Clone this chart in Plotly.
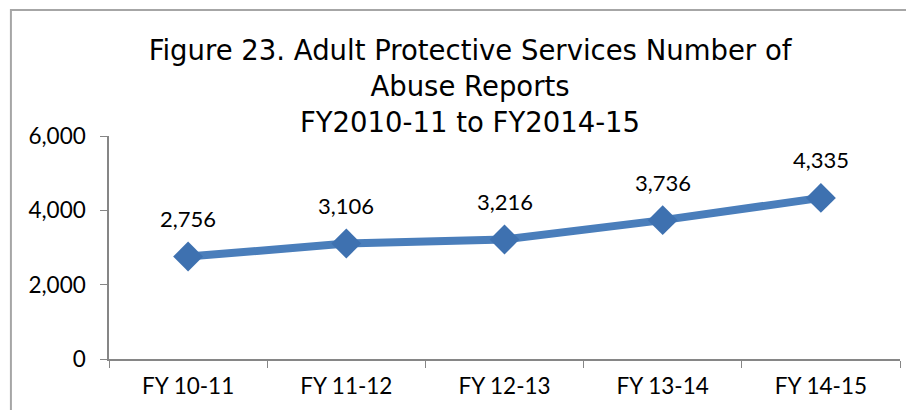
import plotly.graph_objects as go

# data
years = ["FY 10-11", "FY 11-12", "FY 12-13", "FY 13-14", "FY 14-15"]
reports = [2756, 3106, 3216, 3736, 4335]
y_ticks = [0, 2000, 4000, 6000]

blue = "#4A7EBB"
grey = "#A6A6A6"

fig = go.Figure()
fig.add_trace(go.Scatter(
    x=years, y=reports,
    mode="lines+markers",
    line=dict(color=blue, width=8),
    marker=dict(symbol="diamond", size=23, color="#3E71B0"),
    hoverinfo="x+y",
))

# value labels above the points
for yr, val in zip(years, reports):
    fig.add_annotation(x=yr, y=val, text=f"{val:,}", showarrow=False,
                       yshift=38, font=dict(family="Lato", size=22, color="black"))

# outer chart frame (cropped on the right and bottom)
fig.add_shape(type="rect", xref="paper", yref="paper",
              x0=-0.124, x1=1.2, y0=-0.6, y1=1.565,
              line=dict(color=grey, width=2), layer="below")

fig.update_layout(
    width=914, height=410,
    margin=dict(l=101, r=22, t=128, b=59),
    paper_bgcolor="white", plot_bgcolor="white",
    showlegend=False,
    title=dict(
        text="Figure 23. Adult Protective Services Number of<br>Abuse Reports<br>FY2010-11 to FY2014-15",
        x=0.5055, xanchor="center", y=0.873, yanchor="middle",
        font=dict(family="DejaVu Sans", size=27.5, color="black"),
    ),
    font=dict(family="Lato", size=22.5, color="black"),
)
fig.update_xaxes(
    type="category", tickson="boundaries", ticks="outside", ticklen=7,
    tickcolor="#868686", showline=True, linecolor="#868686", linewidth=1.5,
    showgrid=False, range=[-0.5, 4.5], ticklabelstandoff=6,
)
fig.update_yaxes(
    range=[0, 6000], tickvals=y_ticks, tickformat=",", ticks="outside", ticklen=7,
    tickcolor="#868686", showline=True, linecolor="#868686", linewidth=1.5,
    showgrid=False, zeroline=False, ticklabelstandoff=10,
)

fig.write_html("out.html")
